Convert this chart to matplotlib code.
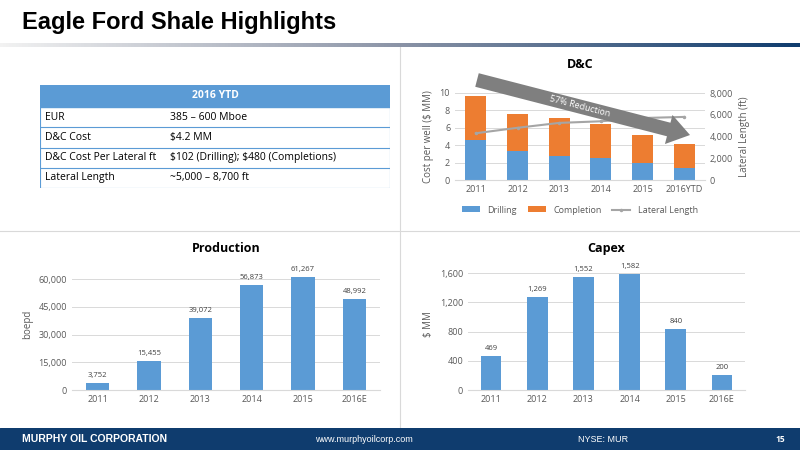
import numpy as np
import matplotlib
matplotlib.use('Agg')
from matplotlib import pyplot as plt
from matplotlib.patches import FancyArrow, Rectangle

years = ['2011', '2012', '2013', '2014', '2015']
dc_years = years + ['2016YTD']
drilling = [4.6, 3.3, 2.8, 2.5, 2.0, 1.4]
completion = [5.0, 4.3, 4.3, 3.9, 3.2, 2.7]
lateral = [4300, 4800, 5250, 5400, 5700, 5800]

prod_years = years + ['2016E']
production = [3752, 15455, 39072, 56873, 61267, 48992]
capex = [469, 1269, 1552, 1582, 840, 200]

table_rows = [('EUR', '385 – 600 Mboe'),
              ('D&C Cost', '$4.2 MM'),
              ('D&C Cost Per Lateral ft', '$102 (Drilling); $480 (Completions)'),
              ('Lateral Length', '~5,000 – 8,700 ft')]

BLUE = '#5b9bd5'
ORANGE = '#ed7d31'
GREY = '#a5a5a5'
NAVY = '#0f3c6e'
W, H = 800, 450

plt.rcParams['font.family'] = ['Open Sans', 'DejaVu Sans']
plt.rcParams['text.parse_math'] = False
fig = plt.figure(figsize=(8, 4.5), dpi=100)

def box(x0, y0, x1, y1):
    # pixel box (top-left origin) -> figure rect
    return [x0 / W, 1 - y1 / H, (x1 - x0) / W, (y1 - y0) / H]

# title and header line
fig.text(22 / W, 1 - 22 / H, 'Eagle Ford Shale Highlights', fontsize=17, fontweight='bold',
         family='Liberation Sans', va='center')
grad = fig.add_axes(box(0, 43, 800, 47))
grad.imshow(np.linspace(0, 1, 256).reshape(1, -1), aspect='auto',
            cmap=matplotlib.colors.LinearSegmentedColormap.from_list('g', ['#f2f2f2', '#8a93a6', NAVY]))
grad.axis('off')

# divider lines
lines = fig.add_axes([0, 0, 1, 1], zorder=-1)
lines.set_xlim(0, W); lines.set_ylim(H, 0); lines.axis('off')
lines.plot([400, 400], [47, 428], color='#d9d9d9', lw=0.8)
lines.plot([0, 800], [231, 231], color='#d9d9d9', lw=0.8)

# footer
foot = fig.add_axes(box(0, 428, 800, 450))
foot.add_patch(Rectangle((0, 0), 1, 1, color=NAVY))
foot.set_xlim(0, 1); foot.set_ylim(0, 1); foot.axis('off')
foot.text(22 / W, 0.5, 'MURPHY OIL CORPORATION', color='white', fontsize=7.5, fontweight='bold',
          family='Liberation Sans', va='center')
foot.text(315 / W, 0.5, 'www.murphyoilcorp.com', color='white', fontsize=6.5, family='Liberation Sans', va='center')
foot.text(578 / W, 0.5, 'NYSE: MUR', color='white', fontsize=6.5, family='Liberation Sans', va='center')
foot.text(775 / W, 0.5, '15', color='white', fontsize=6, fontweight='bold', va='center')

# table
tab = fig.add_axes(box(40, 85, 390, 188))
tab.set_xlim(0, 350); tab.set_ylim(103, 0); tab.axis('off')
tab.add_patch(Rectangle((0, 0), 350, 22, color=BLUE))
tab.text(175, 11, '2016 YTD', color='white', fontsize=7.5, fontweight='bold', ha='center', va='center')
for i, (a, b) in enumerate(table_rows):
    y0 = 22 + i * 20.25
    tab.plot([0, 350], [y0 + 20.25, y0 + 20.25], color=BLUE, lw=0.8)
    tab.text(5, y0 + 10, a, fontsize=7.5, va='center')
    tab.text(130, y0 + 10, b, fontsize=7.5, va='center')
tab.plot([0, 0], [0, 103], color=BLUE, lw=0.8)
tab.plot([350, 350], [0, 103], color=BLUE, lw=0.8)

def style(ax):
    for s in ['top', 'right', 'left']:
        ax.spines[s].set_visible(False)
    ax.spines['bottom'].set_color('#d9d9d9')
    ax.grid(axis='y', color='#d9d9d9', lw=0.7)
    ax.set_axisbelow(True)
    ax.tick_params(length=0, labelsize=6.5, colors='#595959')

# D&C chart
ax = fig.add_axes(box(455, 93, 705, 180))
x = np.arange(len(dc_years))
ax.bar(x, drilling, 0.5, color=BLUE, label='Drilling')
ax.bar(x, completion, 0.5, bottom=drilling, color=ORANGE, label='Completion')
ax.set_ylim(0, 10); ax.set_yticks(range(0, 11, 2))
ax.set_xticks(x, dc_years)
ax.set_xlim(-0.5, 5.5)
style(ax)
ax.set_ylabel('Cost per well ($ MM)', fontsize=7, color='#595959')
ax2 = ax.twinx()
ax2.plot(x, lateral, color=GREY, lw=1.5, marker='.', ms=3, label='Lateral Length')
ax2.set_ylim(0, 8000); ax2.set_yticks(range(0, 8001, 2000))
ax2.set_yticklabels([f'{v:,}' for v in range(0, 8001, 2000)])
for s in ax2.spines.values():
    s.set_visible(False)
ax2.tick_params(length=0, labelsize=6.5, colors='#595959')
ax2.set_ylabel('Lateral Length (ft)', fontsize=7, color='#595959')
ax.set_title('D&C', fontsize=9, fontweight='bold', pad=18)
h1, l1 = ax.get_legend_handles_labels()
h2, l2 = ax2.get_legend_handles_labels()
ax.legend(h1 + h2, l1 + l2, loc='upper center', bbox_to_anchor=(0.5, -0.2), ncol=3, frameon=False,
          fontsize=6.5, handlelength=2, handleheight=0.6, columnspacing=1.2, labelcolor='#595959')
ov = fig.add_axes([0, 0, 1, 1], zorder=5)
ov.set_xlim(0, W); ov.set_ylim(H, 0); ov.axis('off')
ov.add_patch(FancyArrow(477, 80, 213, 55, width=14, head_width=30, head_length=22,
                        length_includes_head=True, color='#7f7f7f', lw=0))
ov.text(580, 106, '57% Reduction', color='white', fontsize=6.5, rotation=-14.5,
        ha='center', va='center', zorder=6)

def bar_chart(rect, vals, ylim, ticks, title, ylabel):
    a = fig.add_axes(rect)
    xx = np.arange(len(prod_years))
    a.bar(xx, vals, 0.45, color=BLUE)
    for xi, v in zip(xx, vals):
        a.text(xi, v + ylim * 0.03, f'{v:,}', ha='center', va='bottom', fontsize=5.5, color='#404040')
    a.set_ylim(0, ylim); a.set_yticks(ticks)
    a.set_yticklabels([f'{t:,}' for t in ticks])
    a.set_xticks(xx, prod_years); a.set_xlim(-0.5, 5.5)
    style(a)
    a.set_ylabel(ylabel, fontsize=7, color='#595959')
    a.set_title(title, fontsize=9, fontweight='bold', pad=4)
    return a

bar_chart(box(72, 258, 380, 390), production, 60000 * 132 / 111, range(0, 60001, 15000), 'Production', 'boepd')
bar_chart(box(468, 258, 745, 390), capex, 1600 * 132 / 117, range(0, 1601, 400), 'Capex', '$ MM')

fig.savefig('out.png', dpi=100)
